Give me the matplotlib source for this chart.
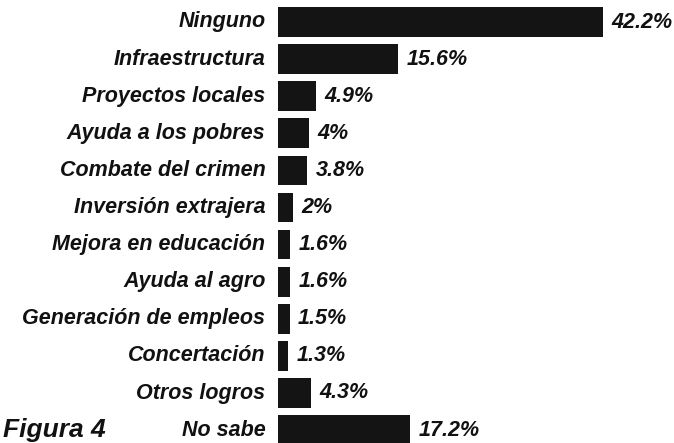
import matplotlib
matplotlib.use("Agg")
import matplotlib.pyplot as plt

categories = ["Ninguno", "Infraestructura", "Proyectos locales", "Ayuda a los pobres",
              "Combate del crimen", "Inversión extrajera", "Mejora en educación",
              "Ayuda al agro", "Generación de empleos", "Concertación",
              "Otros logros", "No sabe"]
values = [42.2, 15.6, 4.9, 4.0, 3.8, 2.0, 1.6, 1.6, 1.5, 1.3, 4.3, 17.2]
value_labels = ["42.2%", "15.6%", "4.9%", "4%", "3.8%", "2%", "1.6%", "1.6%",
                "1.5%", "1.3%", "4.3%", "17.2%"]
caption = "Figura 4"

W, H, DPI = 674, 443, 100
fig = plt.figure(figsize=(W / DPI, H / DPI), dpi=DPI, facecolor="white")

left_px = 278
px_per_unit = 7.70
row0_px = 22
row_step = 37.1

ax = fig.add_axes([left_px / W, 0, 1 - left_px / W, 1])
ax.set_xlim(0, (W - left_px) / px_per_unit)
ax.set_ylim((H - row0_px) / row_step, -row0_px / row_step)
ax.axis("off")

ys = list(range(len(categories)))
ax.barh(ys, values, height=0.8, color="#141414", edgecolor="none")

font = dict(family="Liberation Sans", fontweight="bold", fontstyle="italic", fontsize=15.5, color="#111111")
for y, cat, v, vl in zip(ys, categories, values, value_labels):
    ax.annotate(cat, xy=(0, y), xytext=(-9, 0), textcoords="offset points",
                ha="right", va="center", annotation_clip=False, **font)
    ax.annotate(vl, xy=(v, y), xytext=(6, 0), textcoords="offset points",
                ha="left", va="center", annotation_clip=False, **font)

fig.text(3 / W, 6 / H, caption, ha="left", va="baseline", family="Liberation Sans",
         fontweight="bold", fontstyle="italic", fontsize=19, color="#111111")

fig.savefig("out.png", dpi=DPI, facecolor="white")
